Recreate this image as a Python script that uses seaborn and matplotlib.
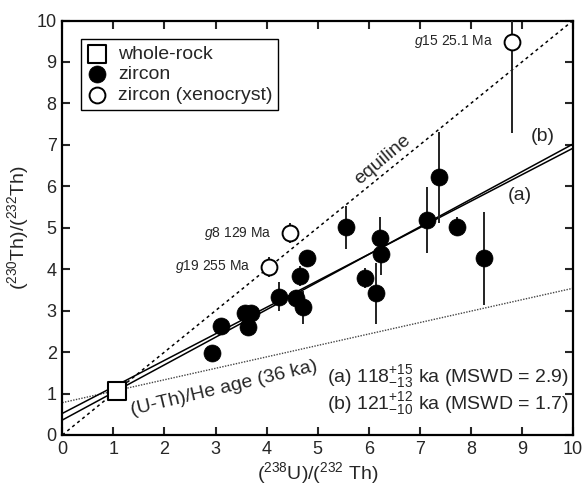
import numpy as np
import pandas as pd
import matplotlib
matplotlib.use("Agg")
import matplotlib.pyplot as plt
import seaborn as sns

# ---- data ----
wr_x = [1.08]
wr_y = [1.07]

zr_x = [2.93, 3.10, 3.58, 3.69, 3.64, 4.25, 4.58, 4.71, 4.65, 4.80,
        5.56, 5.93, 6.14, 6.22, 6.25, 7.14, 7.38, 7.72, 8.26]
zr_y = [1.99, 2.63, 2.95, 2.95, 2.60, 3.34, 3.30, 3.08, 3.84, 4.26,
        5.01, 3.79, 3.42, 4.75, 4.36, 5.19, 6.22, 5.03, 4.26]
zr_err = [0.08, 0.17, 0.08, 0.08, 0.08, 0.34, 0.20, 0.40, 0.24, 0.21,
          0.52, 0.25, 0.74, 0.52, 0.50, 0.80, 1.10, 0.24, 1.12]

xe_x = [8.80, 4.46, 4.04]
xe_y = [9.49, 4.87, 4.06]
xe_err = [2.21, 0.24, 0.24]
xe_labels = ["g15", "g8", "g19"]
xe_ages = ["25.1 Ma", "129 Ma", "255 Ma"]

# isochron fits (intercept, value at x=10)
fit_a = [0.52, 6.92]
fit_b = [0.36, 7.02]
he_line = [0.78, 3.54]
x_ends = [0, 10]

x_ticks = list(range(0, 11))
y_ticks = list(range(0, 11))

# ---- style ----
sns.set_theme(style="ticks")
plt.rcParams["font.family"] = ["Liberation Sans", "DejaVu Sans"]
plt.rcParams["mathtext.fontset"] = "custom"
plt.rcParams["mathtext.rm"] = "Liberation Sans"
plt.rcParams["mathtext.it"] = "Liberation Sans:italic"
plt.rcParams["mathtext.bf"] = "Liberation Sans:bold"

fig = plt.figure(figsize=(5.85, 4.91), dpi=100)
ax = fig.add_axes([0.1065, 0.1141, 0.873, 0.8441])

# lines
ax.plot(x_ends, x_ends, color="black", lw=1.1, ls=(0, (2, 2.2)), zorder=1)
ax.plot(x_ends, he_line, color="#444444", lw=1.0, ls=(0, (1, 1)), zorder=1)
sns.lineplot(x=x_ends, y=fit_a, color="black", lw=1.1, ax=ax, zorder=2)
sns.lineplot(x=x_ends, y=fit_b, color="black", lw=1.1, ax=ax, zorder=2)

# error bars
ax.vlines(zr_x, np.array(zr_y) - np.array(zr_err), np.array(zr_y) + np.array(zr_err),
          color="#222222", lw=1.4, zorder=3)
ax.vlines(xe_x, np.array(xe_y) - np.array(xe_err), np.array(xe_y) + np.array(xe_err),
          color="#222222", lw=1.4, zorder=3)

# points
sns.scatterplot(x=wr_x, y=wr_y, marker="s", s=150, facecolor="white",
                edgecolor="black", linewidth=1.5, ax=ax, zorder=5, label="whole-rock")
sns.scatterplot(x=zr_x, y=zr_y, marker="o", s=150, color="black",
                edgecolor="black", linewidth=0.5, ax=ax, zorder=5, label="zircon")
sns.scatterplot(x=xe_x, y=xe_y, marker="o", s=130, facecolor="white",
                edgecolor="black", linewidth=1.4, ax=ax, zorder=5, label="zircon (xenocryst)")

# labels for xenocrysts
for x, y, g, a in zip(xe_x, xe_y, xe_labels, xe_ages):
    ax.text(x - 0.36, y, f"$\\it{{{g}}}$ {a}", ha="right", va="center", fontsize=10)

ax.text(6.28, 6.63, "equiline", rotation=40, ha="center", va="center", fontsize=14,
        rotation_mode="anchor")
ax.text(9.41, 7.19, "(b)", ha="center", va="center", fontsize=14)
ax.text(8.96, 5.79, "(a)", ha="center", va="center", fontsize=14)
ax.text(3.17, 1.13, "(U-Th)/He age (36 ka)", rotation=13.5, ha="center", va="center",
        fontsize=14, rotation_mode="anchor")
ax.text(5.18, 1.40, r"(a) 118$^{+15}_{-13}$ ka (MSWD = 2.9)", ha="left", va="center", fontsize=14)
ax.text(5.18, 0.77, r"(b) 121$^{+12}_{-10}$ ka (MSWD = 1.7)", ha="left", va="center", fontsize=14)

ax.set_xlim(0, 10)
ax.set_ylim(0, 10)
ax.set_xticks(x_ticks)
ax.set_yticks(y_ticks)
ax.tick_params(direction="in", length=6, width=1.5, top=True, right=True,
               labelsize=13, pad=4)
for sp in ax.spines.values():
    sp.set_visible(True)
    sp.set_linewidth(1.6)
    sp.set_color("black")

ax.set_xlabel(r"($^{238}$U)/($^{232}$ Th)", fontsize=14, labelpad=2)
ax.set_ylabel(r"($^{230}$Th)/($^{232}$Th)", fontsize=14, labelpad=4)

leg = ax.legend(loc="upper left", bbox_to_anchor=(0.037, 0.955), fontsize=14,
                frameon=True, fancybox=False, edgecolor="black", framealpha=1,
                handlelength=1.0, handletextpad=0.6, borderpad=0.3, labelspacing=0.15,
                borderaxespad=0)
leg.get_frame().set_linewidth(1.0)

fig.savefig("out.png", dpi=100)
